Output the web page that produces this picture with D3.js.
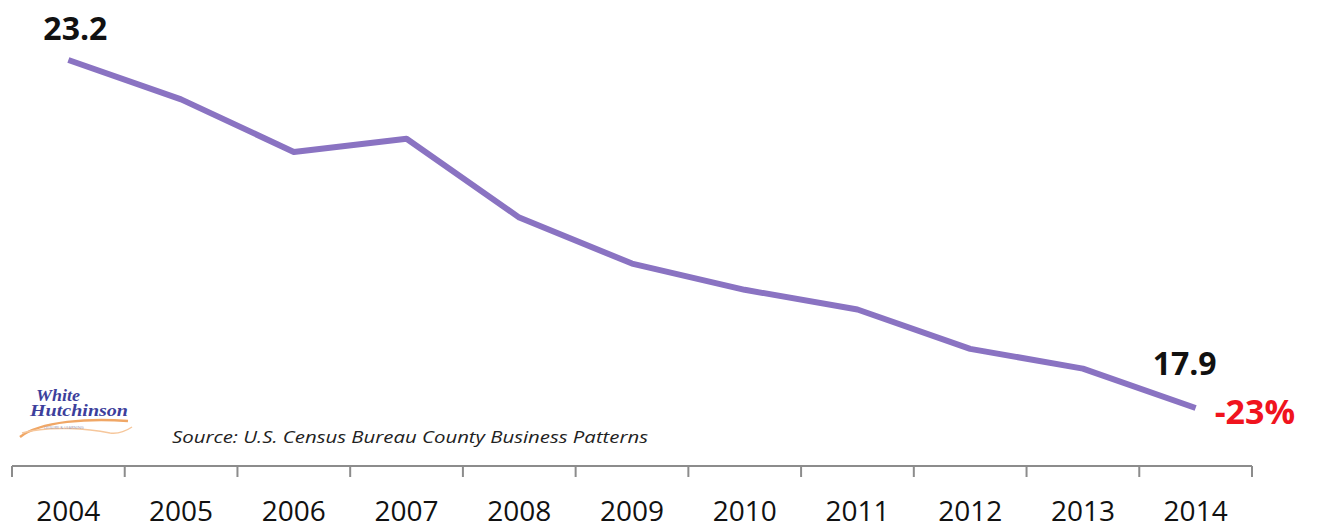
<!DOCTYPE html>
<html>
<head>
<meta charset="utf-8">
<script src="https://cdn.jsdelivr.net/npm/d3@7"></script>
<style>
  body { margin: 0; background: #fff; }
  svg { display: block; font-family: "Open Sans", sans-serif; }
</style>
</head>
<body>
<div id="chart"></div>
<script>
// data
const years = ['2004', '2005', '2006', '2007', '2008', '2009', '2010', '2011', '2012', '2013', '2014'];
const values = [23.2, 22.6, 21.8, 22.0, 20.8, 20.1, 19.7, 19.4, 18.8, 18.5, 17.9];
const changeLabel = '-23%';
const sourceText = 'Source: U.S. Census Bureau County Business Patterns';

const width = 1319;
const height = 529;

const data = years.map((y, i) => ({ year: y, value: values[i] }));

const svg = d3
  .select('#chart')
  .append('svg')
  .attr('width', width)
  .attr('height', height);

// Scales
const xScale = d3.scaleBand().domain(years).range([12, 1252]);
const yScale = d3.scaleLinear().domain([17.9, 23.2]).range([408, 60]);
const cx = (d) => xScale(d) + xScale.bandwidth() / 2;

// X axis
const axisY = 466;
const xAxis = svg.append('g').attr('transform', `translate(0, ${axisY})`);
xAxis
  .append('line')
  .attr('x1', xScale.range()[0])
  .attr('x2', xScale.range()[1])
  .attr('stroke', '#8c8c8c')
  .attr('stroke-width', 2);
const tickPos = years.map((y) => xScale(y)).concat([xScale.range()[1]]);
xAxis
  .selectAll('line.tick')
  .data(tickPos)
  .join('line')
  .attr('class', 'tick')
  .attr('x1', (d) => d)
  .attr('x2', (d) => d)
  .attr('y1', 0)
  .attr('y2', 11)
  .attr('stroke', '#8c8c8c')
  .attr('stroke-width', 2);
xAxis
  .selectAll('text')
  .data(years)
  .join('text')
  .attr('x', (d) => cx(d))
  .attr('y', 55)
  .attr('text-anchor', 'middle')
  .attr('font-size', 28)
  .attr('fill', '#111')
  .text((d) => d);

// the line
const line = d3
  .line()
  .x((d) => cx(d.year))
  .y((d) => yScale(d.value));

svg
  .append('path')
  .datum(data)
  .attr('d', line)
  .attr('fill', 'none')
  .attr('stroke', '#8a73c2')
  .attr('stroke-width', 6)
  .attr('stroke-linejoin', 'round');

// end labels
const first = data[0];
const last = data[data.length - 1];
svg
  .append('text')
  .attr('x', cx(first.year) + 7)
  .attr('y', yScale(first.value) - 20)
  .attr('text-anchor', 'middle')
  .attr('font-size', 32)
  .attr('font-weight', 'bold')
  .attr('fill', '#111')
  .text(first.value.toFixed(1));

svg
  .append('text')
  .attr('x', cx(last.year) - 11)
  .attr('y', yScale(last.value) - 33)
  .attr('text-anchor', 'middle')
  .attr('font-size', 32)
  .attr('font-weight', 'bold')
  .attr('fill', '#111')
  .text(last.value.toFixed(1));

svg
  .append('text')
  .attr('x', cx(last.year) + 19)
  .attr('y', yScale(last.value) + 16)
  .attr('font-size', 34)
  .attr('font-weight', 'bold')
  .attr('fill', '#f0141e')
  .text(changeLabel);

// source note
svg
  .append('text')
  .attr('x', 172)
  .attr('y', 443)
  .attr('font-size', 17)
  .attr('font-style', 'italic')
  .attr('fill', '#222')
  .attr('textLength', 476)
  .attr('lengthAdjust', 'spacingAndGlyphs')
  .text(sourceText);

// logo (rough)
const logo = svg.append('g').attr('class', 'logo');
logo
  .append('text')
  .attr('x', 36)
  .attr('y', 401)
  .attr('font-family', 'Liberation Serif, serif')
  .attr('font-style', 'italic')
  .attr('font-weight', 'bold')
  .attr('font-size', 16)
  .attr('fill', '#3d3f9c')
  .attr('textLength', 44)
  .attr('lengthAdjust', 'spacingAndGlyphs')
  .text('White');
logo
  .append('text')
  .attr('x', 30)
  .attr('y', 416)
  .attr('font-family', 'Liberation Serif, serif')
  .attr('font-style', 'italic')
  .attr('font-weight', 'bold')
  .attr('font-size', 16)
  .attr('fill', '#3d3f9c')
  .attr('textLength', 98)
  .attr('lengthAdjust', 'spacingAndGlyphs')
  .text('Hutchinson');
logo
  .append('path')
  .attr('d', 'M20,437 C40,421 90,418 128,421')
  .attr('fill', 'none')
  .attr('stroke', '#f0a766')
  .attr('stroke-width', 2.5);
logo
  .append('path')
  .attr('d', 'M22,433 C50,425 90,429 110,433 C118,434 126,431 132,427')
  .attr('fill', 'none')
  .attr('stroke', '#f6c79c')
  .attr('stroke-width', 1.5);
logo
  .append('text')
  .attr('x', 44)
  .attr('y', 429)
  .attr('font-size', 4)
  .attr('fill', '#9a9ab8')
  .text('LEISURE & LEARNING');
</script>
</body>
</html>
